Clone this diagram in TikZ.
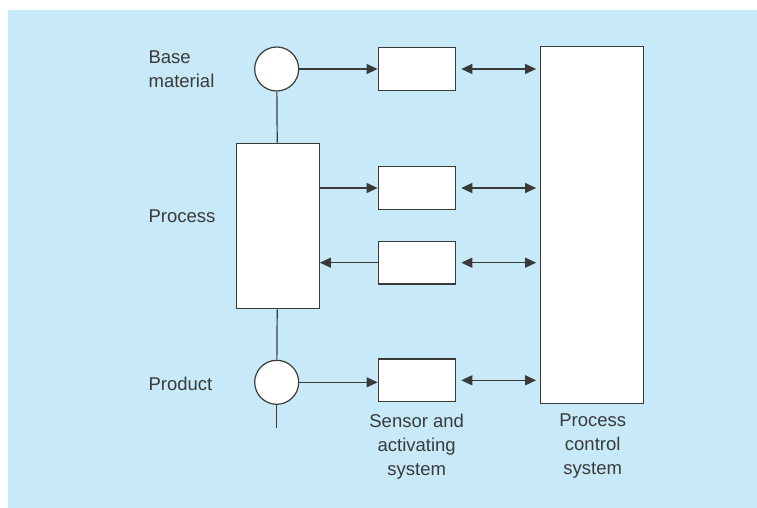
\documentclass[tikz,border=0pt]{standalone}
\usepackage{fontspec}
\setmainfont{Liberation Sans}
\usepackage{xcolor}
\usetikzlibrary{positioning, arrows.meta, calc}
\definecolor{panelblue}{RGB}{199,233,248}
\definecolor{linegray}{RGB}{58,58,58}

\begin{document}
\begin{tikzpicture}[
  x=1pt, y=-1pt,
  font=\fontsize{18.5}{24}\selectfont,
  line width=1.2pt,
  unitbox/.style={draw=linegray, fill=white, inner sep=0pt},
  sensorbox/.style={unitbox, minimum width=77pt, minimum height=42.5pt},
  flowpoint/.style={unitbox, circle, minimum size=44pt},
  caption/.style={text=linegray, align=center, inner sep=0pt},
  link/.style={draw=linegray},
  arrow/.style={link, -{Triangle[length=11pt, width=10pt]}},
  twoway/.style={link, {Triangle[length=11pt, width=10pt]}-{Triangle[length=11pt, width=10pt]},
                 shorten <=5.5pt, shorten >=4pt},
]
\useasboundingbox (0,0) rectangle (757,508);
\fill[panelblue] (8,10) rectangle (757,508);

\node[flowpoint] (base) at (276.7, 69) {};
\node[unitbox, minimum width=83pt, minimum height=165.4pt] (process) at (277.8, 226) {};
\node[flowpoint] (product) at (276.7, 382.3) {};
\coordinate (outlet) at (276.7, 428.3);

\node[sensorbox] (sens1) at (416.7, 69) {};
\node[sensorbox] (sens2) at (416.7, 188) {};
\node[sensorbox] (sens3) at (416.7, 262.7) {};
\node[sensorbox] (sens4) at (416.7, 380.3) {};

\node[unitbox, minimum width=102.6pt, minimum height=356.6pt] (control) at (592, 225) {};

\node[caption, align=left, anchor=west] (lbase) at (148, 69) {Base\\material};
\node[caption, anchor=west] (lprocess) at (148, 216) {Process};
\node[caption, anchor=west] (lproduct) at (148, 384) {Product};
\node[caption] (lsensor) at (416.7, 446.5) {Sensor and\\activating\\system};
\node[caption] (lcontrol) at (592.7, 446.5) {Process\\control\\system};

\draw[link] (base) -- (process);
\draw[link] (process) -- (product);
\draw[link] (product) -- (outlet);

\draw[arrow] (base) -- (sens1);
\draw[arrow] (process.east |- sens2) -- (sens2);
\draw[arrow] (sens3) -- (process.east |- sens3);
\draw[arrow] (product) -- (sens4.west |- product);

\draw[twoway] (sens1) -- (control.west |- sens1);
\draw[twoway] (sens2) -- (control.west |- sens2);
\draw[twoway] (sens3) -- (control.west |- sens3);
\draw[twoway] (sens4) -- (control.west |- sens4);
\end{tikzpicture}
\end{document}
